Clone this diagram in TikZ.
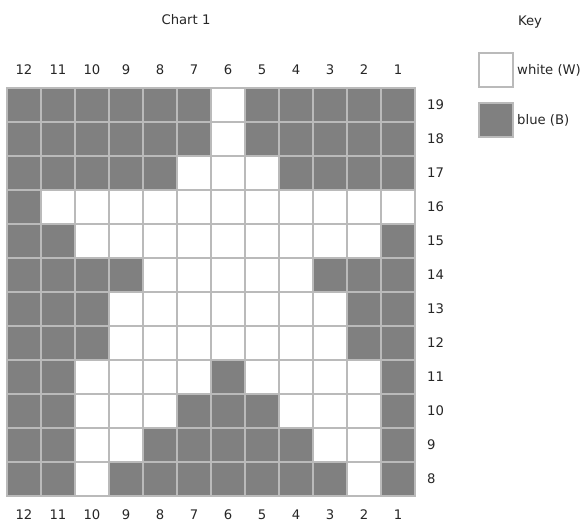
\documentclass[tikz,border=0pt]{standalone}
\usepackage{fontspec}
\setmainfont{DejaVu Sans}
\usetikzlibrary{positioning}
\definecolor{StitchBlue}{rgb}{0.5, 0.5, 0.5}
\definecolor{GridGray}{rgb}{0.73, 0.73, 0.73}

\begin{document}
\begin{tikzpicture}[
    x=1pt, y=-1pt,
    font=\fontsize{13.2}{16}\selectfont,
    cell/.style={draw=GridGray, line width=2pt, minimum size=34pt,
        inner sep=0pt, outer sep=0pt},
    wcell/.style={cell, fill=white},
    bcell/.style={cell, fill=StitchBlue},
    lbl/.style={inner sep=0pt, text=black!85},
]
\useasboundingbox (0,0) rectangle (586,523);

% titel
\node[lbl] (title) at (186,20) {Chart 1};
\node[lbl] (keytitle) at (530,22) {Key};

% raster: 1 = blauw, 0 = wit (links kolom 12, rechts kolom 1)
\foreach \r/\pat in {
    19/{1,1,1,1,1,1,0,1,1,1,1,1},
    18/{1,1,1,1,1,1,0,1,1,1,1,1},
    17/{1,1,1,1,1,0,0,0,1,1,1,1},
    16/{1,0,0,0,0,0,0,0,0,0,0,0},
    15/{1,1,0,0,0,0,0,0,0,0,0,1},
    14/{1,1,1,1,0,0,0,0,0,1,1,1},
    13/{1,1,1,0,0,0,0,0,0,0,1,1},
    12/{1,1,1,0,0,0,0,0,0,0,1,1},
    11/{1,1,0,0,0,0,1,0,0,0,0,1},
    10/{1,1,0,0,0,1,1,1,0,0,0,1},
     9/{1,1,0,0,1,1,1,1,1,0,0,1},
     8/{1,1,0,1,1,1,1,1,1,1,0,1}} {
    \foreach \v [count=\i] in \pat {
        \pgfmathtruncatemacro{\col}{13-\i}
        \ifnum\v=1
            \node[bcell] (c-\r-\col) at ({24+34*(\i-1)},{105+34*(19-\r)}) {};
        \else
            \node[wcell] (c-\r-\col) at ({24+34*(\i-1)},{105+34*(19-\r)}) {};
        \fi
    }
    % rijnummer
    \node[lbl, anchor=west] (row-\r) at (427,{105+34*(19-\r)}) {\r};
}

% kolomnummers boven en onder
\foreach \i in {1,...,12} {
    \pgfmathtruncatemacro{\col}{13-\i}
    \node[lbl] (top-\col) at ({24+34*(\i-1)},70) {\col};
    \node[lbl] (bot-\col) at ({24+34*(\i-1)},515) {\col};
}

% legenda
\node[wcell] (keyW) at (496,70) {};
\node[bcell] (keyB) at (496,120) {};
\node[lbl, right=4pt of keyW] (keyWtxt) {white (W)};
\node[lbl, right=4pt of keyB] (keyBtxt) {blue (B)};

\end{tikzpicture}
\end{document}
